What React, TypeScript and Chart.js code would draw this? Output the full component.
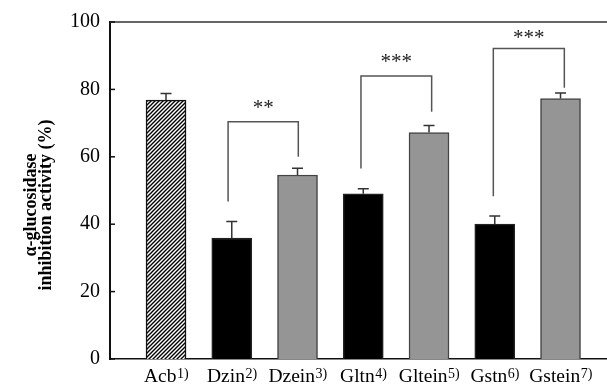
import React, { useEffect, useRef } from "react";
import { Chart, registerables } from "chart.js";

Chart.register(...registerables);

const categories = ["Acb", "Dzin", "Dzein", "Gltn", "Gltein", "Gstn", "Gstein"];
const superscripts = ["1)", "2)", "3)", "4)", "5)", "6)", "7)"];
const means = [76.8, 35.9, 54.6, 49.0, 67.2, 40.0, 77.3];
const errors = [2.0, 4.9, 2.0, 1.5, 2.1, 2.4, 1.6];
const barKinds = ["hatch", "black", "grey", "black", "grey", "black", "grey"];
const yTicks = [0, 20, 40, 60, 80, 100];

// significance brackets
const bracketLeftX = [0.944, 2.965, 4.978];
const bracketRightX = [2.012, 4.04, 6.058];
const bracketTop = [70.4, 84.0, 92.1];
const bracketLeftBottom = [46.7, 56.5, 48.3];
const bracketRightBottom = [60.0, 73.4, 80.5];
const bracketStars = ["**", "***", "***"];
const starLift = [8, 8, 5];

const yTitleLines = ["α-glucosidase", "inhibition activity (%)"];

const SERIF = "'Liberation Serif', 'Times New Roman', serif";

function makeHatch(): CanvasPattern | string {
  const c = document.createElement("canvas");
  c.width = 4;
  c.height = 4;
  const g = c.getContext("2d");
  if (!g) return "#fff";
  g.fillStyle = "#fff";
  g.fillRect(0, 0, 4, 4);
  g.strokeStyle = "#000";
  g.lineWidth = 1.4;
  g.beginPath();
  g.moveTo(-1, 5);
  g.lineTo(5, -1);
  g.moveTo(-1, 1);
  g.lineTo(1, -1);
  g.moveTo(3, 5);
  g.lineTo(5, 3);
  g.stroke();
  const p = g.createPattern(c, "repeat");
  return p || "#fff";
}

const overlayPlugin = {
  id: "overlay",
  afterDatasetsDraw(chart: any) {
    const ctx = chart.ctx;
    const xs = chart.scales.x;
    const ys = chart.scales.y;
    const area = chart.chartArea;
    ctx.save();
    // error bars
    ctx.strokeStyle = "#333";
    ctx.lineWidth = 1.5;
    means.forEach((m, i) => {
      const x = xs.getPixelForValue(i);
      const y0 = ys.getPixelForValue(m);
      const y1 = ys.getPixelForValue(m + errors[i]);
      ctx.beginPath();
      ctx.moveTo(x, y0);
      ctx.lineTo(x, y1);
      ctx.moveTo(x - 5.5, y1);
      ctx.lineTo(x + 5.5, y1);
      ctx.stroke();
    });
    // brackets
    ctx.strokeStyle = "#555";
    ctx.lineWidth = 1.5;
    bracketTop.forEach((t, i) => {
      const xl = xs.getPixelForValue(bracketLeftX[i]);
      const xr = xs.getPixelForValue(bracketRightX[i]);
      const yt = ys.getPixelForValue(t);
      ctx.beginPath();
      ctx.moveTo(xl, ys.getPixelForValue(bracketLeftBottom[i]));
      ctx.lineTo(xl, yt);
      ctx.lineTo(xr, yt);
      ctx.lineTo(xr, ys.getPixelForValue(bracketRightBottom[i]));
      ctx.stroke();
      ctx.fillStyle = "#222";
      ctx.font = `21px ${SERIF}`;
      ctx.textAlign = "center";
      ctx.textBaseline = "alphabetic";
      ctx.fillText(bracketStars[i], (xl + xr) / 2, yt - starLift[i]);
    });
    // top frame line
    ctx.strokeStyle = "#666";
    ctx.lineWidth = 2;
    ctx.beginPath();
    ctx.moveTo(area.left, area.top);
    ctx.lineTo(area.right, area.top);
    ctx.stroke();
    // inward y ticks
    ctx.strokeStyle = "#111";
    ctx.lineWidth = 1.5;
    yTicks.forEach((v) => {
      const y = ys.getPixelForValue(v);
      ctx.beginPath();
      ctx.moveTo(area.left, y);
      ctx.lineTo(area.left + 5, y);
      ctx.stroke();
    });
    ctx.restore();
  },
  afterDraw(chart: any) {
    const ctx = chart.ctx;
    const xs = chart.scales.x;
    const area = chart.chartArea;
    ctx.save();
    // x labels with superscripts
    ctx.fillStyle = "#000";
    ctx.textBaseline = "alphabetic";
    ctx.textAlign = "left";
    const baseY = area.bottom + 23;
    categories.forEach((c, i) => {
      const cx = xs.getPixelForValue(i);
      ctx.font = `19.5px ${SERIF}`;
      const w1 = ctx.measureText(c).width;
      ctx.font = `14px ${SERIF}`;
      const w2 = ctx.measureText(superscripts[i]).width;
      const start = cx - (w1 + w2) / 2;
      ctx.font = `19.5px ${SERIF}`;
      ctx.fillText(c, start, baseY);
      ctx.font = `14px ${SERIF}`;
      ctx.fillText(superscripts[i], start + w1 + 0.5, baseY - 4);
    });
    // y title
    ctx.font = `bold 18px ${SERIF}`;
    ctx.textAlign = "center";
    ctx.textBaseline = "middle";
    const cy = 205;
    const lineX = [31, 46];
    yTitleLines.forEach((t, i) => {
      ctx.save();
      ctx.translate(lineX[i], cy);
      ctx.rotate(-Math.PI / 2);
      ctx.fillText(t, 0, 0);
      ctx.restore();
    });
    ctx.restore();
  },
};

export default function App() {
  const ref = useRef<HTMLCanvasElement | null>(null);
  useEffect(() => {
    if (!ref.current) return;
    const hatch = makeHatch();
    const fills = barKinds.map((k) => (k === "hatch" ? hatch : k === "black" ? "#000" : "#959595"));
    const borders = barKinds.map((k) => (k === "hatch" ? "#111" : k === "black" ? "#222" : "#444"));
    const chart = new Chart(ref.current, {
      type: "bar",
      data: {
        datasets: [
          {
            data: means.map((m, i) => ({ x: i, y: m })),
            backgroundColor: fills as any,
            borderColor: borders,
            borderWidth: 1.5,
            barThickness: 40,
          },
        ],
      },
      options: {
        responsive: false,
        animation: false,
        layout: { padding: { top: 20, left: 0, right: 0, bottom: 0 } },
        plugins: { legend: { display: false }, tooltip: { enabled: false } },
        scales: {
          x: {
            type: "linear",
            offset: false,
            min: -0.852,
            max: 6.707,
            ticks: { display: false },
            grid: { display: false, offset: false },
            border: { display: true, color: "#111", width: 1.5 },
            afterFit: (s: any) => {
              s.height = 28;
            },
          },
          y: {
            min: 0,
            max: 100,
            ticks: {
              stepSize: 20,
              color: "#000",
              padding: 10,
              font: { family: SERIF, size: 20 },
            },
            grid: { display: false, drawTicks: false },
            border: { display: true, color: "#111", width: 2 },
            afterFit: (s: any) => {
              s.width = 110;
            },
          },
        },
      } as any,
      plugins: [overlayPlugin],
    });
    return () => chart.destroy();
  }, []);
  return (
    <div style={{ position: "fixed", left: 0, top: 0, width: 607, height: 387, background: "#fff" }}>
      <canvas ref={ref} width={607} height={387} style={{ display: "block" }} />
    </div>
  );
}
